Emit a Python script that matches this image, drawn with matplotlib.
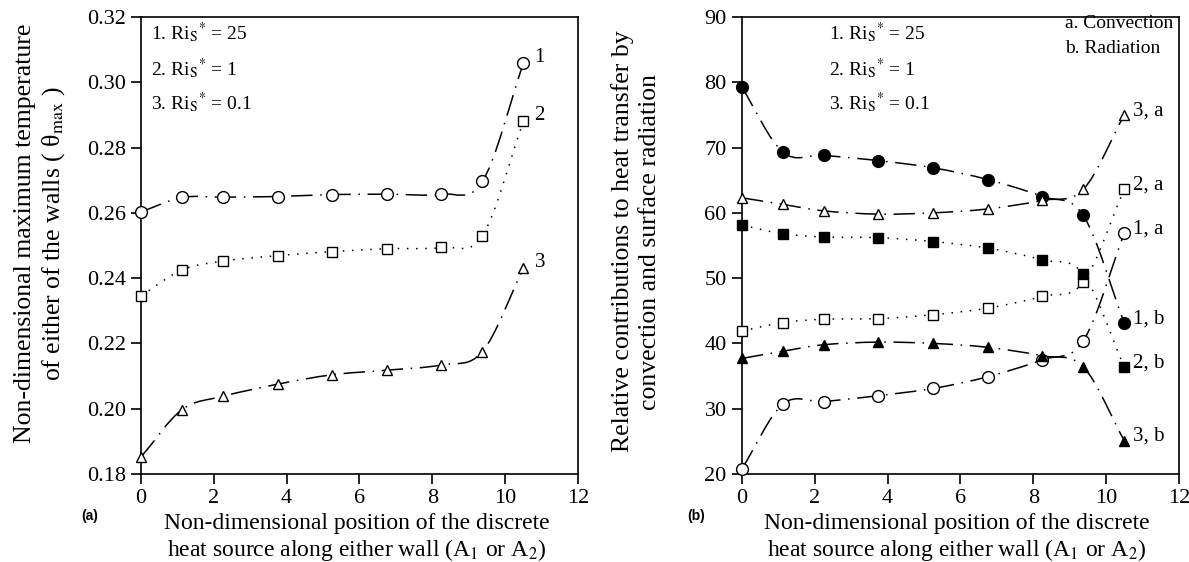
import matplotlib
matplotlib.use("Agg")
import matplotlib.pyplot as plt
from matplotlib.path import Path
from matplotlib.patches import PathPatch
import numpy as np

plt.rcParams['font.family'] = ['Liberation Serif', 'DejaVu Serif']
plt.rcParams['mathtext.fontset'] = 'stix'

# source positions along the wall
pos = [0, 1.125, 2.25, 3.75, 5.25, 6.75, 8.25, 9.375, 10.5]

# (a) maximum temperature
theta_25 = [0.2603, 0.2647, 0.2648, 0.2650, 0.2656, 0.2657, 0.2657, 0.2696, 0.3058]
theta_1 = [0.2346, 0.2425, 0.2452, 0.2469, 0.2481, 0.2490, 0.2494, 0.2530, 0.2880]
theta_01 = [0.1852, 0.1997, 0.2038, 0.2075, 0.2104, 0.2118, 0.2134, 0.2175, 0.2430]

# (b) convection (a) and radiation (b) shares, %
conv_25 = [20.8, 30.7, 31.1, 32.0, 33.1, 34.9, 37.5, 40.4, 56.9]
rad_25 = [79.2, 69.3, 68.8, 68.0, 66.9, 65.1, 62.5, 59.6, 43.1]
conv_1 = [41.9, 43.2, 43.7, 43.8, 44.4, 45.4, 47.2, 49.4, 63.6]
rad_1 = [58.1, 56.8, 56.3, 56.2, 55.6, 54.6, 52.8, 50.6, 36.4]
conv_01 = [62.3, 61.3, 60.3, 59.8, 60.0, 60.6, 61.9, 63.6, 75.0]
rad_01 = [37.7, 38.8, 39.8, 40.2, 40.0, 39.4, 38.1, 36.4, 25.1]

DASHDOT = (0, (14, 5, 1, 5))
DOTTED = (0, (1, 5))


def smooth_line(ax, x, y, ls):
    # Catmull-Rom spline drawn as cubic bezier path in data coords
    x = np.asarray(x, float)
    y = np.asarray(y, float)
    n = len(x)
    verts = [(x[0], y[0])]
    codes = [Path.MOVETO]
    for i in range(n - 1):
        i0 = max(i - 1, 0)
        i3 = min(i + 2, n - 1)
        m1x = (x[i + 1] - x[i0]) / (2 if i > 0 else 1)
        m1y = (y[i + 1] - y[i0]) / (2 if i > 0 else 1)
        m2x = (x[i3] - x[i]) / (2 if i + 2 < n else 1)
        m2y = (y[i3] - y[i]) / (2 if i + 2 < n else 1)
        verts += [(x[i] + m1x / 3, y[i] + m1y / 3),
                  (x[i + 1] - m2x / 3, y[i + 1] - m2y / 3),
                  (x[i + 1], y[i + 1])]
        codes += [Path.CURVE4] * 3
    ax.add_patch(PathPatch(Path(verts, codes), fill=False, lw=1.1,
                           ls=ls, ec='black', zorder=2))


def style_axes(ax):
    for s in ax.spines.values():
        s.set_linewidth(1.2)
    ax.tick_params(direction='out', length=7, width=1.2, labelsize=16,
                   pad=4, top=False, right=False)
    ax.set_xlim(0, 12)
    ax.set_xticks(range(0, 13, 2))


fig = plt.figure(figsize=(11.89, 5.62), dpi=100)
axa = fig.add_axes([0.1186, 0.1566, 0.3675, 0.8132])
axb = fig.add_axes([0.624, 0.1566, 0.3675, 0.8132])

xlab = ('Non-dimensional position of the discrete\n'
        r'heat source along either wall (A$_1$ or A$_2$)')
ri_labels = [r'1. Ri$_{\rm S}{}^{*}$ = 25', r'2. Ri$_{\rm S}{}^{*}$ = 1',
             r'3. Ri$_{\rm S}{}^{*}$ = 0.1']
ri_y = [0.965, 0.888, 0.812]

# ---- panel (a)
series_a = [(theta_25, 'o', DASHDOT, '1'),
            (theta_1, 's', DOTTED, '2'),
            (theta_01, '^', DASHDOT, '3')]
for ys, mk, ls, lab in series_a:
    smooth_line(axa, pos, ys, ls)
    axa.plot(pos, ys, ls='none', marker=mk, ms=8.5 if mk == 'o' else 7,
             mfc='white', mec='black', mew=1.0, zorder=3, clip_on=False)
    axa.annotate(lab, (pos[-1], ys[-1]), xytext=(8, 4),
                 textcoords='offset points', fontsize=15, va='center')

style_axes(axa)
axa.set_ylim(0.18, 0.32)
axa.set_yticks(np.arange(0.18, 0.321, 0.02))
axa.yaxis.set_major_formatter(matplotlib.ticker.FormatStrFormatter('%.2f'))
fig.text(0.034, 0.585, 'Non-dimensional maximum temperature\n'
         'of either of the walls ( θ$_{\\rm max}$ )',
         rotation=90, fontsize=18.5, ha='center', va='center',
         linespacing=1.25)
fig.text(0.300, 0.042, xlab, fontsize=17, ha='center', va='center',
         linespacing=1.15)

for t, yy in zip(ri_labels, ri_y):
    axa.text(0.022, yy, t, transform=axa.transAxes, fontsize=14, va='center')

fig.text(0.068, 0.075, '(a)', fontsize=10, fontweight='bold',
         family='Liberation Sans')

# ---- panel (b)
series_b = [(conv_25, 'o', 'white', DASHDOT, '1, a'),
            (rad_25, 'o', 'black', DASHDOT, '1, b'),
            (conv_1, 's', 'white', DOTTED, '2, a'),
            (rad_1, 's', 'black', DOTTED, '2, b'),
            (conv_01, '^', 'white', DASHDOT, '3, a'),
            (rad_01, '^', 'black', DASHDOT, '3, b')]
for ys, mk, fc, ls, lab in series_b:
    smooth_line(axb, pos, ys, ls)
    axb.plot(pos, ys, ls='none', marker=mk, ms=8.5 if mk == 'o' else 7,
             mfc=fc, mec='black', mew=1.0, zorder=3, clip_on=False)
    axb.annotate(lab, (pos[-1], ys[-1]), xytext=(6, 3),
                 textcoords='offset points', fontsize=15, va='center')

style_axes(axb)
axb.set_ylim(20, 90)
axb.set_yticks(range(20, 91, 10))
fig.text(0.535, 0.570, 'Relative contributions to heat transfer by\n'
         'convection and surface radiation',
         rotation=90, fontsize=18.5, ha='center', va='center',
         linespacing=1.25)
fig.text(0.805, 0.042, xlab, fontsize=17, ha='center', va='center',
         linespacing=1.15)

for t, yy in zip(ri_labels, ri_y):
    axb.text(0.2, yy, t, transform=axb.transAxes, fontsize=14, va='center')
axb.text(0.74, 0.985, 'a. Convection', transform=axb.transAxes,
         fontsize=14, va='center')
axb.text(0.74, 0.93, 'b. Radiation', transform=axb.transAxes,
         fontsize=14, va='center')

fig.text(0.578, 0.075, '(b)', fontsize=10, fontweight='bold',
         family='Liberation Sans')

fig.savefig('out.png', dpi=100)
